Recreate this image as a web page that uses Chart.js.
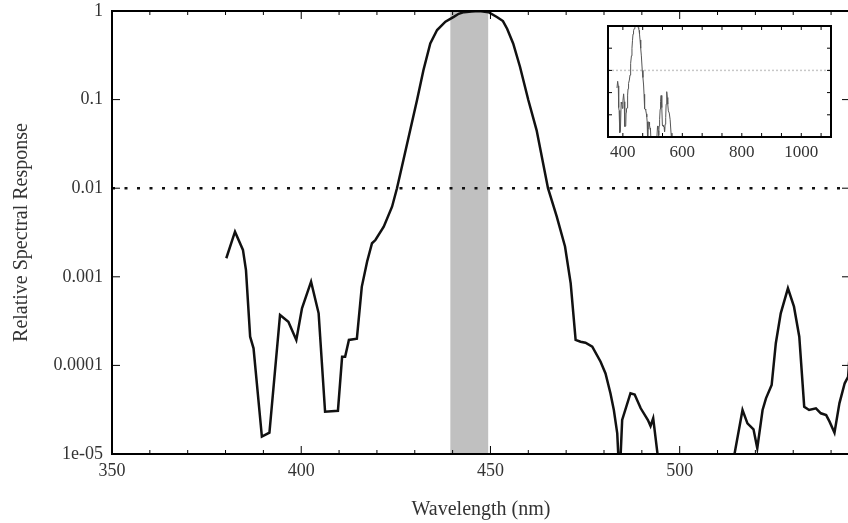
<!DOCTYPE html>
<html>
<head>
<meta charset="utf-8">
<script src="https://cdn.jsdelivr.net/npm/chart.js@4.4.1/dist/chart.umd.min.js"></script>
<style>
  html, body { margin: 0; padding: 0; background: #fff; overflow: hidden; }
  #wrap { position: relative; width: 852px; height: 523px; }
  #main { position: absolute; left: 0; top: 0; width: 852px; height: 523px; }
  #inset { position: absolute; left: 590px; top: 15px; width: 258px; height: 160px; }
</style>
</head>
<body>
<div id="wrap">
  <div id="main"><canvas id="spectrum"></canvas></div>
  <div id="inset"><canvas id="overview"></canvas></div>
</div>
<script>
// data
const wavelength = [380.2, 382.5, 384.6, 385.4, 386.5, 387.4, 389.6, 391.6, 394.4, 396.6, 398.7, 400.2, 402.6, 404.6, 406.3, 409.7, 410.8, 411.6, 412.6, 414.7, 416.0, 417.4, 418.7, 419.6, 421.8, 424.0, 425.3, 427.0, 428.8, 430.6, 432.3, 434.1, 435.9, 438.1, 440.3, 441.6, 443.0, 445.0, 447.0, 449.5, 451.8, 453.3, 454.4, 456.0, 457.8, 460.0, 462.2, 465.2, 467.5, 469.7, 471.2, 472.5, 473.8, 475.1, 476.9, 479.1, 480.4, 481.7, 482.6, 483.5, 484.1, 484.8, 487.0, 488.1, 489.7, 491.6, 492.3, 493.0, 495.0, 500.0, 505.0, 510.0, 513.2, 516.6, 517.9, 519.5, 520.5, 521.9, 522.8, 524.3, 525.4, 526.7, 528.6, 530.2, 531.6, 532.9, 534.2, 536.0, 537.3, 538.7, 539.6, 540.9, 542.2, 543.6, 544.5, 545.5, 547.0, 548.0, 549.5, 551.0, 553.0, 556.0, 559.0, 562.0, 565.0];
const response = [1.62e-3, 3.23e-3, 2.01e-3, 1.19e-3, 2.11e-4, 1.56e-4, 1.57e-5, 1.74e-5, 3.71e-4, 3.11e-4, 1.94e-4, 4.41e-4, 8.81e-4, 3.87e-4, 3.0e-5, 3.08e-5, 1.25e-4, 1.25e-4, 1.94e-4, 2.0e-4, 7.7e-4, 1.48e-3, 2.39e-3, 2.6e-3, 3.68e-3, 6.18e-3, 9.97e-3, 0.0208, 0.0454, 0.0989, 0.216, 0.431, 0.61, 0.757, 0.86, 0.93, 0.97, 0.99, 1.0, 0.97, 0.85, 0.77, 0.63, 0.43, 0.235, 0.099, 0.045, 0.01, 4.8e-3, 2.2e-3, 8.45e-4, 1.94e-4, 1.85e-4, 1.8e-4, 1.63e-4, 1.1e-4, 8.1e-5, 4.85e-5, 3.14e-5, 1.71e-5, 5e-6, 2.42e-5, 4.85e-5, 4.7e-5, 3.28e-5, 2.42e-5, 2.07e-5, 2.53e-5, 5e-6, 3e-6, 2e-6, 3e-6, 5e-6, 3.14e-5, 2.22e-5, 1.9e-5, 1.16e-5, 3.14e-5, 4.25e-5, 6.0e-5, 1.78e-4, 3.87e-4, 7.41e-4, 4.6e-4, 2.11e-4, 3.42e-5, 3.14e-5, 3.28e-5, 2.88e-5, 2.75e-5, 2.32e-5, 1.74e-5, 3.73e-5, 6.28e-5, 7.45e-5, 3e-4, 8e-4, 1.1e-3, 6e-4, 3e-4, 1.5e-4, 1.2e-4, 6e-5, 1.5e-5, 4e-6];

const threshold = 0.01;
const band = [439.4, 449.4];

const xRange = [350, 545];
const xTicks = [350, 400, 450, 500];
const xTickLabels = ["350", "400", "450", "500"];
const xMinorTicks = [360, 370, 380, 390, 410, 420, 430, 440, 460, 470, 480, 490, 510, 520, 530, 540];

const yTicks = [1e-5, 1e-4, 1e-3, 1e-2, 1e-1, 1];
const yTickLabels = ["1e-05", "0.0001", "0.001", "0.01", "0.1", "1"];

const insetRange = [350, 1100];
const insetTicks = [400, 600, 800, 1000];
const insetTickLabels = ["400", "600", "800", "1000"];
const insetMinorTicks = [466.67, 533.33, 666.67, 733.33, 866.67, 933.33, 1066.67];

const serif = "'Liberation Serif', 'Times New Roman', serif";
Chart.defaults.font.family = serif;
Chart.defaults.color = "#333";

const points = wavelength.map((w, i) => ({ x: w, y: response[i] }));

// frame, inward ticks and the shaded band
const frameTicks = {
  id: "frameTicks",
  beforeDatasetsDraw(chart, args, opts) {
    if (!opts.band) return;
    const { ctx, chartArea: a, scales: { x } } = chart;
    const x0 = x.getPixelForValue(opts.band[0]);
    const x1 = x.getPixelForValue(opts.band[1]);
    ctx.save();
    ctx.fillStyle = "#c0c0c0";
    ctx.fillRect(x0, a.top, x1 - x0, a.bottom - a.top);
    ctx.restore();
  },
  afterDatasetsDraw(chart, args, opts) {
    const { ctx, chartArea: a, scales: { x, y } } = chart;
    ctx.save();
    ctx.strokeStyle = "#000";
    ctx.lineWidth = 1;
    const seg = (x0, y0, x1, y1) => {
      ctx.beginPath();
      ctx.moveTo(x0, y0);
      ctx.lineTo(x1, y1);
      ctx.stroke();
    };
    opts.xMajor.forEach(v => {
      const p = x.getPixelForValue(v);
      seg(p, a.bottom, p, a.bottom - opts.major);
      seg(p, a.top, p, a.top + opts.major);
    });
    opts.xMinor.forEach(v => {
      const p = x.getPixelForValue(v);
      seg(p, a.bottom, p, a.bottom - opts.minor);
      seg(p, a.top, p, a.top + opts.minor);
    });
    opts.yMajor.forEach(v => {
      const p = y.getPixelForValue(v);
      seg(a.left, p, a.left + opts.major, p);
      seg(a.right, p, a.right - opts.major, p);
    });
    ctx.lineWidth = opts.width;
    ctx.strokeRect(a.left, a.top, a.right - a.left, a.bottom - a.top);
    ctx.restore();
  }
};

new Chart(document.getElementById("spectrum"), {
  type: "line",
  data: {
    datasets: [
      {
        data: points,
        borderColor: "#111",
        borderWidth: 2.5,
        pointRadius: 0,
        tension: 0,
      },
      {
        data: [{ x: xRange[0], y: threshold }, { x: xRange[1], y: threshold }],
        borderColor: "#111",
        borderWidth: 2.5,
        borderDash: [3, 9.5],
        pointRadius: 0,
      },
    ],
  },
  options: {
    responsive: true,
    maintainAspectRatio: false,
    animation: false,
    layout: { padding: { top: 11, right: 2, left: 0, bottom: 0 } },
    plugins: {
      legend: { display: false },
      tooltip: { enabled: false },
      frameTicks: {
        band: band,
        xMajor: xTicks, xMinor: xMinorTicks, yMajor: yTicks,
        major: 8, minor: 4, width: 2,
      },
    },
    scales: {
      x: {
        type: "linear",
        min: xRange[0],
        max: xRange[1],
        afterBuildTicks: s => { s.ticks = xTicks.map(v => ({ value: v })); },
        afterFit: s => { s.height = 69; },
        grid: { display: false, drawTicks: false },
        border: { display: false },
        ticks: {
          autoSkip: false,
          maxRotation: 0,
          padding: 6,
          font: { size: 18 },
          callback: v => xTickLabels[xTicks.indexOf(v)],
        },
        title: {
          display: true,
          text: "Wavelength (nm)",
          font: { size: 20 },
          padding: { top: 0, bottom: 1 },
        },
      },
      y: {
        type: "logarithmic",
        min: 1e-5,
        max: 1,
        afterBuildTicks: s => { s.ticks = yTicks.map(v => ({ value: v })); },
        afterFit: s => { s.width = 112; s.paddingTop = 0; s.paddingBottom = 0; },
        grid: { display: false, drawTicks: false },
        border: { display: false },
        ticks: {
          padding: 9,
          font: { size: 18 },
          callback: v => yTickLabels[yTicks.findIndex(t => Math.abs(t - v) / t < 1e-6)],
        },
        title: {
          display: true,
          text: "Relative Spectral Response",
          font: { size: 20 },
          padding: { top: 10, bottom: 0 },
        },
      },
    },
  },
  plugins: [frameTicks],
});

new Chart(document.getElementById("overview"), {
  type: "line",
  data: {
    datasets: [
      {
        data: points,
        borderColor: "#555",
        borderWidth: 1,
        pointRadius: 0,
      },
      {
        data: [{ x: insetRange[0], y: threshold }, { x: insetRange[1], y: threshold }],
        borderColor: "#c8c8c8",
        borderWidth: 1.5,
        borderDash: [2, 2],
        pointRadius: 0,
      },
    ],
  },
  options: {
    responsive: true,
    maintainAspectRatio: false,
    animation: false,
    layout: { padding: { top: 11, right: 17, left: 18, bottom: 0 } },
    plugins: {
      legend: { display: false },
      tooltip: { enabled: false },
      frameTicks: {
        xMajor: insetTicks, xMinor: insetMinorTicks, yMajor: yTicks,
        major: 4, minor: 4, width: 2,
      },
    },
    scales: {
      x: {
        type: "linear",
        min: insetRange[0],
        max: insetRange[1],
        afterBuildTicks: s => { s.ticks = insetTicks.map(v => ({ value: v })); },
        afterFit: s => { s.height = 38; },
        grid: { display: false, drawTicks: false },
        border: { display: false },
        ticks: {
          autoSkip: false,
          maxRotation: 0,
          padding: 5,
          font: { size: 17 },
          callback: v => insetTickLabels[insetTicks.indexOf(v)],
        },
      },
      y: {
        type: "logarithmic",
        display: false,
        min: 1e-5,
        max: 1,
      },
    },
  },
  plugins: [frameTicks],
});
</script>
</body>
</html>
